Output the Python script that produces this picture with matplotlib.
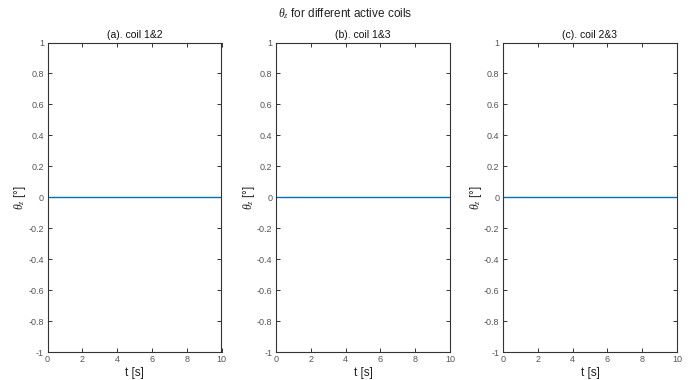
import matplotlib
matplotlib.use("Agg")
import matplotlib.pyplot as plt

plt.rcParams['font.family'] = ['Liberation Sans', 'DejaVu Sans']
plt.rcParams['mathtext.fontset'] = 'custom'
plt.rcParams['mathtext.it'] = 'Liberation Serif:italic'
plt.rcParams['mathtext.rm'] = 'Liberation Sans'

titles = ["(a). coil 1&2", "(b). coil 1&3", "(c). coil 2&3"]
t = [0, 2, 4, 6, 8, 10]
theta_a = [0, 0, 0, 0, 0, 0]
theta_b = [0, 0, 0, 0, 0, 0]
theta_c = [0, 0, 0, 0, 0, 0]
series = [theta_a, theta_b, theta_c]
xticks = [0, 2, 4, 6, 8, 10]
yticks = [-1, -0.8, -0.6, -0.4, -0.2, 0, 0.2, 0.4, 0.6, 0.8, 1]
ytick_labels = ["-1", "-0.8", "-0.6", "-0.4", "-0.2", "0", "0.2", "0.4", "0.6", "0.8", "1"]

fig = plt.figure(figsize=(6.9, 3.8), dpi=100)
fig.patch.set_facecolor('white')
lefts = [47.5 / 690, 276 / 690, 503 / 690]
w = 174 / 690
bottom = 1 - 352 / 380
h = (352 - 42.5) / 380

for i in range(3):
    ax = fig.add_axes([lefts[i], bottom, w, h])
    ax.plot(t, series[i], color='#0072BD', lw=1.0)
    ax.set_xlim(0, 10)
    ax.set_ylim(-1, 1)
    ax.set_xticks(xticks)
    ax.set_xticklabels([str(x) for x in xticks])
    ax.set_yticks(yticks)
    ax.set_yticklabels(ytick_labels)
    ax.tick_params(direction='in', top=True, right=True, length=3, width=0.7,
                   labelsize=6.5, labelcolor='#555555', color='#333333', pad=2.5)
    for s in ax.spines.values():
        s.set_color('#333333')
        s.set_linewidth(0.8)
    ax.set_title(titles[i], fontsize=7.5, pad=3, color='#111111')
    ax.set_xlabel("t [s]", fontsize=8.5, labelpad=2, color='#222222')
    ax.set_ylabel(r"$\theta_z$ [°]", fontsize=8.5, labelpad=0, color='#222222')

fig.text(0.5, 1 - 14 / 380, r"$\theta_z$ for different active coils", ha='center', va='center',
         fontsize=8.5, color='#222222')

fig.savefig("out.png", dpi=100, facecolor='white')
